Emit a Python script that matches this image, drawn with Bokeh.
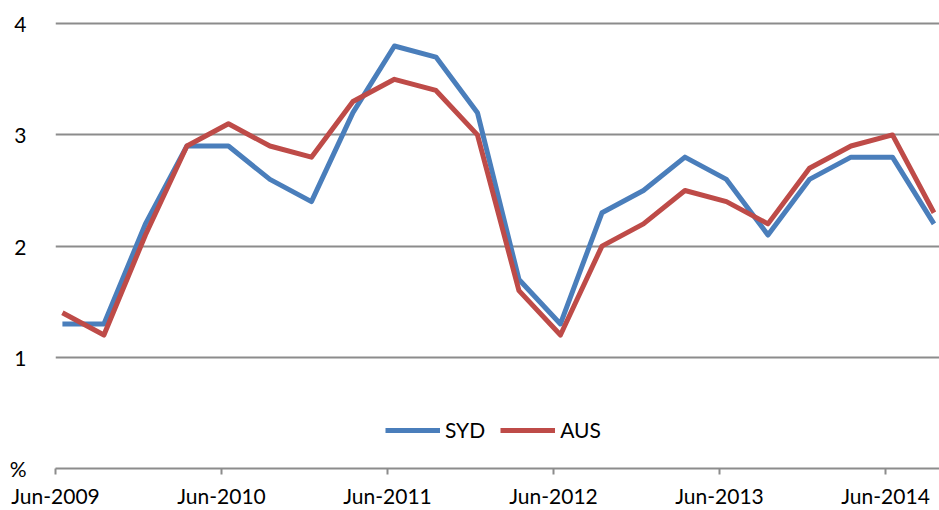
from bokeh.plotting import figure
from bokeh.models import FixedTicker, Legend, LegendItem, ColumnDataSource
from bokeh.embed import file_html
from bokeh.resources import INLINE

quarters = ["Jun-2009", "Sep-2009", "Dec-2009", "Mar-2010", "Jun-2010", "Sep-2010",
            "Dec-2010", "Mar-2011", "Jun-2011", "Sep-2011", "Dec-2011", "Mar-2012",
            "Jun-2012", "Sep-2012", "Dec-2012", "Mar-2013", "Jun-2013", "Sep-2013",
            "Dec-2013", "Mar-2014", "Jun-2014", "Sep-2014"]
syd = [1.3, 1.3, 2.2, 2.9, 2.9, 2.6, 2.4, 3.2, 3.8, 3.7, 3.2, 1.7,
       1.3, 2.3, 2.5, 2.8, 2.6, 2.1, 2.6, 2.8, 2.8, 2.2]
aus = [1.4, 1.2, 2.1, 2.9, 3.1, 2.9, 2.8, 3.3, 3.5, 3.4, 3.0, 1.6,
       1.2, 2.0, 2.2, 2.5, 2.4, 2.2, 2.7, 2.9, 3.0, 2.3]
tick_labels = ["Jun-2009", "Jun-2010", "Jun-2011", "Jun-2012", "Jun-2013", "Jun-2014"]
y_ticks = [0, 1, 2, 3, 4]
y_labels = ["%", "1", "2", "3", "4"]

# months since Jun-2009 (data sit mid-month)
x = [3 * i + 0.5 for i in range(len(quarters))]
src = ColumnDataSource(dict(x=x, syd=syd, aus=aus))

FONT = "Lato"
GRID = "#8c8c8c"

p = figure(width=939, height=510, output_backend="svg", toolbar_location=None,
           x_range=(0, 63.9), y_range=(0, 4.02),
           min_border_left=55, min_border_right=0, min_border_top=21, min_border_bottom=39)
p.outline_line_color = None
p.background_fill_color = "white"

r1 = p.line("x", "syd", source=src, line_color="#4A7EBB", line_width=5, line_join="round")
r2 = p.line("x", "aus", source=src, line_color="#BE4B48", line_width=5, line_join="round")

# x axis
xa = p.xaxis[0]
xa.ticker = FixedTicker(ticks=[12 * i for i in range(len(tick_labels))])
xa.major_label_overrides = {12 * i: lab for i, lab in enumerate(tick_labels)}
xa.axis_line_color = GRID
xa.axis_line_width = 2
xa.major_tick_line_color = GRID
xa.major_tick_line_width = 2
xa.major_tick_out = 6
xa.major_tick_in = 0
xa.minor_tick_line_color = None
xa.major_label_standoff = 8
xa.major_label_text_font = FONT
xa.major_label_text_font_size = "21px"
xa.major_label_text_color = "black"

# y axis
ya = p.yaxis[0]
ya.ticker = FixedTicker(ticks=y_ticks)
ya.major_label_overrides = {t: l for t, l in zip(y_ticks, y_labels)}
ya.axis_line_color = None
ya.major_tick_line_color = None
ya.minor_tick_line_color = None
ya.major_label_standoff = 23
ya.major_label_text_font = FONT
ya.major_label_text_font_size = "21px"
ya.major_label_text_color = "black"

p.xgrid.grid_line_color = None
p.ygrid.ticker = FixedTicker(ticks=[1, 2, 3, 4])
p.ygrid.grid_line_color = GRID
p.ygrid.grid_line_width = 2

legend = Legend(items=[LegendItem(label="SYD", renderers=[r1]),
                       LegendItem(label="AUS", renderers=[r2])],
                location=(330, 26), orientation="horizontal",
                border_line_color=None, background_fill_alpha=0,
                padding=0, margin=0, spacing=15, label_standoff=5,
                glyph_width=55, glyph_height=20, label_height=20,
                label_text_font=FONT, label_text_font_size="21px",
                label_text_color="black")
p.add_layout(legend, "center")

open("out.html", "w").write(file_html(p, INLINE))
